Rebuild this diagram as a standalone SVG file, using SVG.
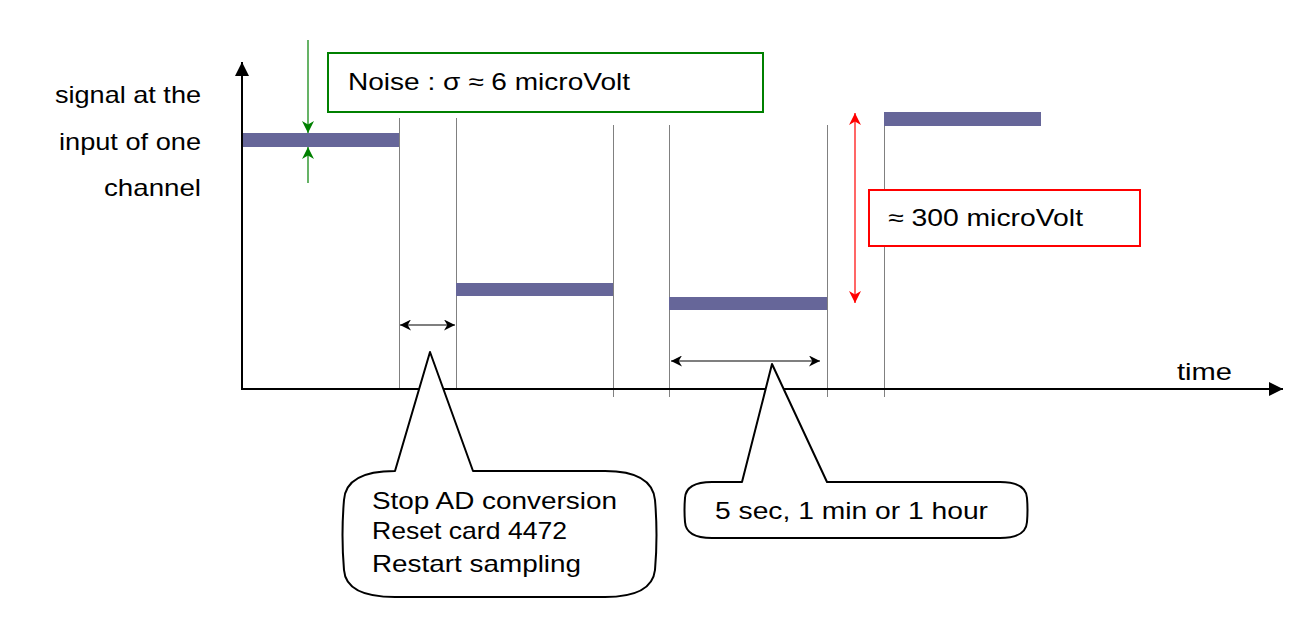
<svg xmlns="http://www.w3.org/2000/svg" width="1299" height="630" viewBox="0 0 1299 630">
<style>
text{font-family:"Liberation Sans",Arial,sans-serif;font-size:24px;fill:#000}
.bar{fill:#666699}
.grid{stroke:#808080;stroke-width:1}
.axis{stroke:#000;stroke-width:2;fill:none}
.call{fill:#fff;stroke:#000;stroke-width:2;stroke-linejoin:round}
</style>
<defs>
<marker id="ah" viewBox="0 0 10 10" refX="10" refY="5" markerWidth="13" markerHeight="11" markerUnits="userSpaceOnUse" orient="auto-start-reverse"><path d="M0,0 L10,5 L0,10 L3,5 Z" fill="#000"/></marker>
<marker id="ahg" viewBox="0 0 10 10" refX="10" refY="5" markerWidth="12" markerHeight="12" markerUnits="userSpaceOnUse" orient="auto-start-reverse"><path d="M0,0 L10,5 L0,10 L3,5 Z" fill="#008000"/></marker>
<marker id="ahr" viewBox="0 0 10 10" refX="10" refY="5" markerWidth="12" markerHeight="12" markerUnits="userSpaceOnUse" orient="auto-start-reverse"><path d="M0,0 L10,5 L0,10 L3,5 Z" fill="#ff0000"/></marker>
<marker id="axh" viewBox="0 0 10 10" refX="10" refY="5" markerWidth="16" markerHeight="14" markerUnits="userSpaceOnUse" orient="auto"><path d="M0,0 L10,5 L0,10 Z" fill="#000"/></marker>
</defs>
<g id="grid">
<line class="grid" x1="399.5" y1="118" x2="399.5" y2="389"/>
<line class="grid" x1="456.5" y1="118" x2="456.5" y2="389"/>
<line class="grid" x1="613.5" y1="125" x2="613.5" y2="397"/>
<line class="grid" x1="669.5" y1="125" x2="669.5" y2="397"/>
<line class="grid" x1="827.5" y1="125" x2="827.5" y2="397"/>
<line class="grid" x1="884.5" y1="118" x2="884.5" y2="397"/>
</g>
<g id="axes">
<line class="axis" x1="242" y1="390" x2="242" y2="62" marker-end="url(#axh)"/>
<line class="axis" x1="241" y1="389" x2="1283" y2="389" marker-end="url(#axh)"/>
</g>
<g id="bars">
<rect class="bar" x="243" y="133" width="156" height="14"/>
<rect class="bar" x="456" y="283" width="157" height="13"/>
<rect class="bar" x="669" y="297" width="158" height="13"/>
<rect class="bar" x="884" y="112" width="157" height="14"/>
</g>
<g id="ylabel">
<text x="201" y="103" text-anchor="end" textLength="146" lengthAdjust="spacingAndGlyphs">signal at the</text>
<text x="201" y="150" text-anchor="end" textLength="142" lengthAdjust="spacingAndGlyphs">input of one</text>
<text x="201" y="196" text-anchor="end" textLength="97" lengthAdjust="spacingAndGlyphs">channel</text>
</g>
<text id="time" x="1177" y="380" textLength="55" lengthAdjust="spacingAndGlyphs">time</text>
<g id="noise">
<rect x="328" y="53" width="435" height="59" fill="#fff" stroke="#008000" stroke-width="2"/>
<text x="348" y="90" textLength="282" lengthAdjust="spacingAndGlyphs">Noise : σ ≈ 6 microVolt</text>
</g>
<g id="amplitude">
<rect x="869" y="190" width="271" height="56" fill="#fff" stroke="#ff0000" stroke-width="2"/>
<text x="888" y="226" textLength="195" lengthAdjust="spacingAndGlyphs">≈ 300 microVolt</text>
</g>
<g id="connectors">
<line x1="308" y1="40" x2="308" y2="133" stroke="#008000" stroke-width="1.2" marker-end="url(#ahg)"/>
<line x1="308" y1="183" x2="308" y2="147" stroke="#008000" stroke-width="1.2" marker-end="url(#ahg)"/>
<line x1="855" y1="113" x2="855" y2="303" stroke="#ff0000" stroke-width="1.2" marker-start="url(#ahr)" marker-end="url(#ahr)"/>
<line x1="400" y1="325" x2="455" y2="325" stroke="#000" stroke-width="1.2" marker-start="url(#ah)" marker-end="url(#ah)"/>
<line x1="671" y1="361" x2="820" y2="361" stroke="#000" stroke-width="1.2" marker-start="url(#ah)" marker-end="url(#ah)"/>
</g>
<g id="callout1">
<path class="call" d="M395,471 L430,352 L473,471 L605,471 Q652,471 655,500 Q658,535 655,570 Q652,597 605,597 L395,597 Q346,597 344,570 Q341,535 344,500 Q346,471 395,471 Z"/>
<text x="372" y="509" textLength="245" lengthAdjust="spacingAndGlyphs">Stop AD conversion</text>
<text x="372" y="539" textLength="195" lengthAdjust="spacingAndGlyphs">Reset card 4472</text>
<text x="372" y="572" textLength="209" lengthAdjust="spacingAndGlyphs">Restart sampling</text>
</g>
<g id="callout2">
<path class="call" d="M742,482 L772,364 L827,482 L1000,482 Q1026,482 1027,498 Q1028,510 1027,522 Q1026,538 1000,538 L712,538 Q686,538 685,522 Q684,510 685,498 Q686,482 712,482 Z"/>
<text x="715" y="519" textLength="273" lengthAdjust="spacingAndGlyphs">5 sec, 1 min or 1 hour</text>
</g>
</svg>
